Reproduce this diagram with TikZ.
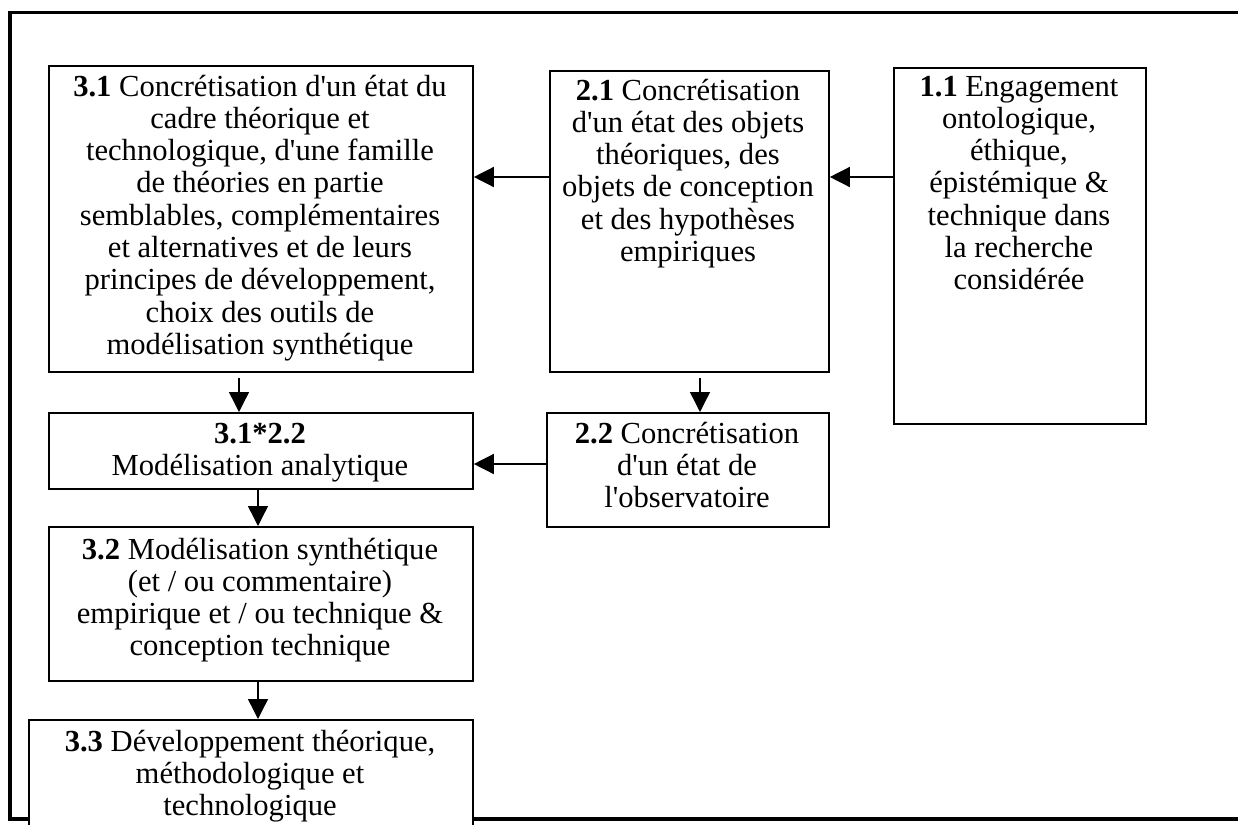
\documentclass[tikz,border=0pt]{standalone}
\usepackage{fontspec}
\setmainfont{Liberation Serif}
\newfontfamily\qfont{Liberation Serif}
\newcommand\myap{{\qfont'}}
\usetikzlibrary{arrows.meta}
\begin{document}
\begin{tikzpicture}[x=0.5pt,y=-0.5pt,
  box/.style={draw, line width=0.9pt, fill=white, inner sep=0pt, anchor=north west},
  tx/.style={anchor=base, inner sep=0pt, font=\fontsize{15.3pt}{16.15pt}\selectfont},
  arr/.style={line width=0.7pt, -{Triangle[length=10pt,width=10pt]}},
  frame/.style={line width=1.6pt}]
\useasboundingbox (0,0) rectangle (1238,825);
\clip (0,0) rectangle (1238,825);
\fill[white] (0,0) rectangle (1238,825);
% outer frame (right side runs off the page)
\draw[frame] (10,12.5) rectangle (1270,819);
% boxes
\node[box, minimum width=212pt, minimum height=153pt] (b31) at (48,65) {};
\node[box, minimum width=139.5pt, minimum height=150.5pt] (b21) at (549,70) {};
\node[box, minimum width=126pt, minimum height=178pt] (b11) at (893,67) {};
\node[box, minimum width=212pt, minimum height=38pt] (b3122) at (48,412) {};
\node[box, minimum width=141pt, minimum height=57pt] (b22) at (546,412) {};
\node[box, minimum width=212pt, minimum height=77pt] (b32) at (48,526) {};
\node[box, minimum width=222pt, minimum height=70pt] (b33) at (28,719) {};
% texts
\node[tx] (t31) at (260,96) {\parbox[t]{230pt}{\centering \textbf{3.1} Concrétisation d\myap un état du\\cadre théorique et\\technologique, d\myap une famille\\de théories en partie\\semblables, complémentaires\\et alternatives et de leurs\\principes de développement,\\choix des outils de\\modélisation synthétique}};
\node[tx] (t21) at (688,100) {\parbox[t]{160pt}{\centering \textbf{2.1} Concrétisation\\d\myap un état des objets\\théoriques, des\\objets de conception\\et des hypothèses\\empiriques}};
\node[tx] (t11) at (1019,96) {\parbox[t]{140pt}{\centering \textbf{1.1} Engagement\\ontologique,\\éthique,\\épistémique \&\\technique dans\\la recherche\\considérée}};
\node[tx] (t3122) at (260,443) {\parbox[t]{230pt}{\centering \textbf{3.1*2.2}\\Modélisation analytique}};
\node[tx] (t22) at (687,443) {\parbox[t]{160pt}{\centering \textbf{2.2} Concrétisation\\d\myap un état de\\l\myap observatoire}};
\node[tx] (t32) at (260,559) {\parbox[t]{230pt}{\centering \textbf{3.2} Modélisation synthétique\\(et / ou commentaire)\\empirique et / ou technique \&\\conception technique}};
\node[tx] (t33) at (250,751) {\parbox[t]{230pt}{\centering \textbf{3.3} Développement théorique,\\méthodologique et\\technologique}};
% connector guides
\coordinate (r1) at (0,177);
\coordinate (r2) at (0,464);
\coordinate (c1) at (239,0);
\coordinate (c2) at (258,0);
\coordinate (c3) at (700,0);
% connectors
\draw[arr] (b21.west |- r1) -- (b31.east |- r1);
\draw[arr] (b11.west |- r1) -- (b21.east |- r1);
\draw[arr, shorten <=2.5pt] (b31.south -| c1) -- (b3122.north -| c1);
\draw[arr, shorten <=2.5pt] (b21.south -| c3) -- (b22.north -| c3);
\draw[arr] (b22.west |- r2) -- (b3122.east |- r2);
\draw[arr] (b3122.south -| c2) -- (b32.north -| c2);
\draw[arr] (b32.south -| c2) -- (b33.north -| c2);
\end{tikzpicture}
\end{document}
